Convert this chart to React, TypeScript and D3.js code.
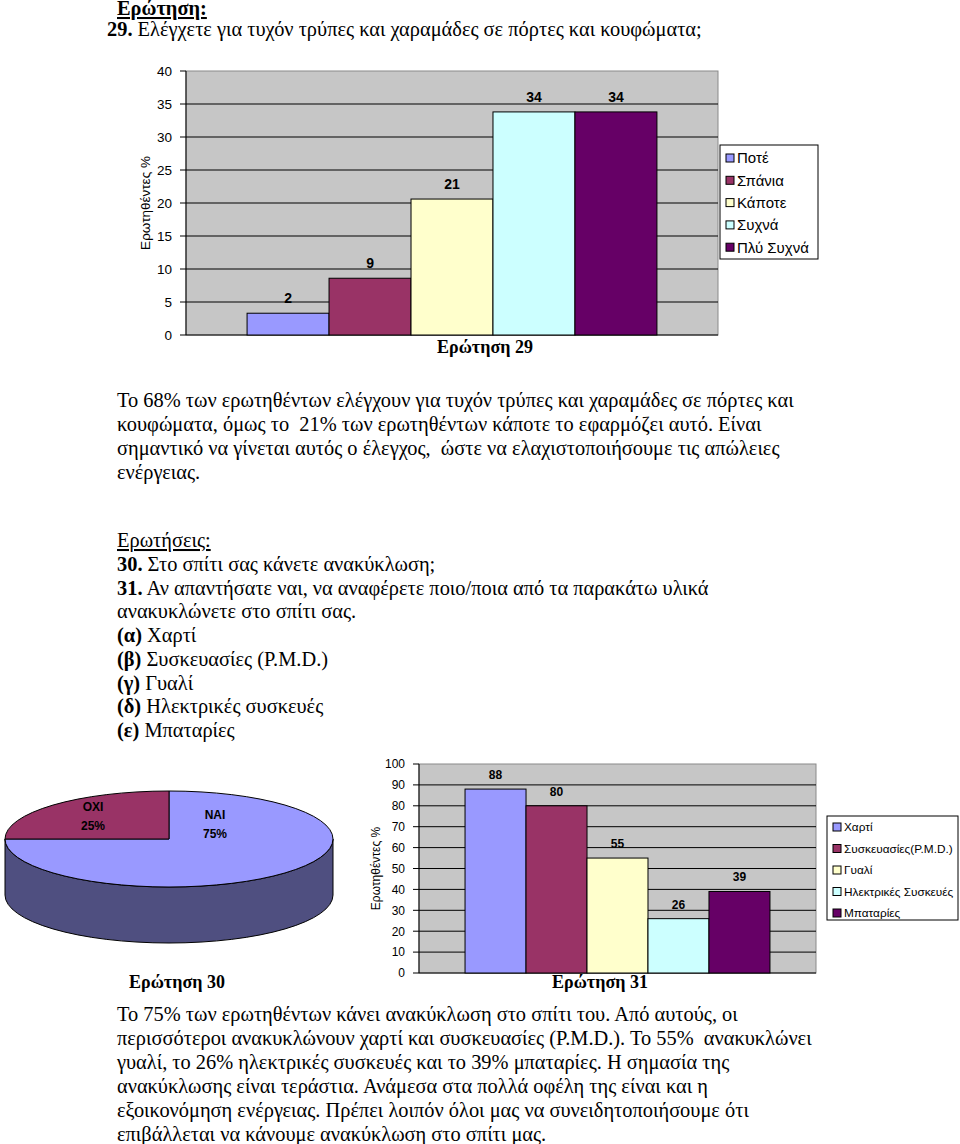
import * as d3 from "d3";

// Ερώτηση 29
const q29Categories = ["Ποτέ", "Σπάνια", "Κάποτε", "Συχνά", "Πλύ Συχνά"];
const q29Values = [3.3, 8.6, 20.6, 33.8, 33.8];
const q29Labels = ["2", "9", "21", "34", "34"];
const q29Ticks = [0, 5, 10, 15, 20, 25, 30, 35, 40];

// Ερώτηση 30
const q30Categories = ["ΝΑΙ", "ΟΧΙ"];
const q30Values = [75, 25];

// Ερώτηση 31
const q31Categories = ["Χαρτί", "Συσκευασίες(P.M.D.)", "Γυαλί", "Ηλεκτρικές Συσκευές", "Μπαταρίες"];
const q31Values = [88, 80, 55, 26, 39];
const q31Ticks = [0, 10, 20, 30, 40, 50, 60, 70, 80, 90, 100];

const barColors = ["#9999ff", "#993366", "#ffffcc", "#ccffff", "#660066"];
const pieColors = ["#9999ff", "#993366"];

const para29 = [
  "Το 68% των ερωτηθέντων ελέγχουν για τυχόν τρύπες και χαραμάδες σε πόρτες και",
  "κουφώματα, όμως το  21% των ερωτηθέντων κάποτε το εφαρμόζει αυτό. Είναι",
  "σημαντικό να γίνεται αυτός ο έλεγχος,  ώστε να ελαχιστοποιήσουμε τις απώλειες",
  "ενέργειας.",
];

const questionLines: [string, string][] = [
  ["30.", " Στο σπίτι σας κάνετε ανακύκλωση;"],
  ["31.", " Αν απαντήσατε ναι, να αναφέρετε ποιο/ποια από τα παρακάτω υλικά"],
  ["", "ανακυκλώνετε στο σπίτι σας."],
  ["(α)", " Χαρτί"],
  ["(β)", " Συσκευασίες (P.M.D.)"],
  ["(γ)", " Γυαλί"],
  ["(δ)", " Ηλεκτρικές συσκευές"],
  ["(ε)", " Μπαταρίες"],
];

const para31 = [
  "Το 75% των ερωτηθέντων κάνει ανακύκλωση στο σπίτι του. Από αυτούς, οι",
  "περισσότεροι ανακυκλώνουν χαρτί και συσκευασίες (P.M.D.). Το 55%  ανακυκλώνει",
  "γυαλί, το 26% ηλεκτρικές συσκευές και το 39% μπαταρίες. Η σημασία της",
  "ανακύκλωσης είναι τεράστια. Ανάμεσα στα πολλά οφέλη της είναι και η",
  "εξοικονόμηση ενέργειας. Πρέπει λοιπόν όλοι μας να συνειδητοποιήσουμε ότι",
  "επιβάλλεται να κάνουμε ανακύκλωση στο σπίτι μας.",
];

const SERIF = "'Liberation Serif', 'Times New Roman', serif";
const SANS = "'Liberation Sans', Arial, sans-serif";

type BarChartProps = {
  categories: string[];
  values: number[];
  labels: string[];
  ticks: number[];
  left: number;
  right: number;
  top: number;
  bottom: number;
  outer: number;
  fontSize: number;
  labelSize: number;
  titleX: number;
  title: string;
  titleY: number;
  titleCx: number;
  legend: { x: number; y: number; w: number; h: number; rowY: number; rowH: number; fs: number };
};

function BarChart(p: BarChartProps) {
  const x = d3.scaleBand<string>().domain(p.categories).range([p.left, p.right]).paddingInner(0).paddingOuter(p.outer);
  const y = d3.scaleLinear().domain([0, p.ticks[p.ticks.length - 1]]).range([p.bottom, p.top]);
  return (
    <g>
      <rect x={p.left} y={p.top} width={p.right - p.left} height={p.bottom - p.top} fill="#c6c6c6" stroke="#8a8a8a" strokeWidth={1} />
      {p.ticks.map((t) => (
        <g key={t}>
          {t > 0 && t < p.ticks[p.ticks.length - 1] ? (
            <line x1={p.left} x2={p.right} y1={y(t)} y2={y(t)} stroke="#000" strokeWidth={1} />
          ) : null}
          <line x1={p.left - 6} x2={p.left} y1={y(t)} y2={y(t)} stroke="#000" strokeWidth={1} />
          <text x={p.left - 14} y={y(t)} dy="0.36em" textAnchor="end" fontFamily={SANS} fontSize={p.fontSize}>
            {t}
          </text>
        </g>
      ))}
      <line x1={p.left} x2={p.left} y1={p.top} y2={p.bottom} stroke="#000" strokeWidth={1} />
      <line x1={p.left} x2={p.right} y1={p.bottom} y2={p.bottom} stroke="#000" strokeWidth={1} />
      {p.categories.map((c, i) => (
        <g key={c}>
          <rect
            x={x(c)}
            y={y(p.values[i])}
            width={x.bandwidth()}
            height={p.bottom - y(p.values[i])}
            fill={barColors[i]}
            stroke="#000"
            strokeWidth={1}
          />
          <text
            x={(x(c) ?? 0) + x.bandwidth() / 2}
            y={y(p.values[i]) - 10}
            textAnchor="middle"
            fontFamily={SANS}
            fontWeight="bold"
            fontSize={p.labelSize}
          >
            {p.labels[i]}
          </text>
        </g>
      ))}
      <text
        transform={`translate(${p.titleX},${(p.top + p.bottom) / 2}) rotate(-90)`}
        textAnchor="middle"
        dy="0.36em"
        fontFamily={SANS}
        fontSize={p.fontSize}
      >
        Ερωτηθέντες %
      </text>
      <text x={p.titleCx} y={p.titleY} textAnchor="middle" fontFamily={SERIF} fontWeight="bold" fontSize={18}>
        {p.title}
      </text>
      <rect x={p.legend.x} y={p.legend.y} width={p.legend.w} height={p.legend.h} fill="#fff" stroke="#000" strokeWidth={1} />
      {p.categories.map((c, i) => (
        <g key={"lg" + c}>
          <rect
            x={p.legend.x + 6}
            y={p.legend.rowY + i * p.legend.rowH - 4}
            width={8}
            height={8}
            fill={barColors[i]}
            stroke="#000"
            strokeWidth={1}
          />
          <text
            x={p.legend.x + 17}
            y={p.legend.rowY + i * p.legend.rowH}
            dy="0.36em"
            fontFamily={SANS}
            fontSize={p.legend.fs}
          >
            {c}
          </text>
        </g>
      ))}
    </g>
  );
}

function Pie3D() {
  const cx = 169;
  const cy = 839;
  const rx = 164;
  const ry = 48;
  const depth = 56;
  const pie = d3.pie<number>().sort(null).startAngle(0).endAngle(2 * Math.PI);
  const arcs = pie(q30Values);
  const arc = d3.arc<d3.PieArcDatum<number>>().innerRadius(0).outerRadius(1);
  const side = `M${cx - rx},${cy} A${rx},${ry} 0 0 0 ${cx + rx},${cy} L${cx + rx},${cy + depth} A${rx},${ry} 0 0 1 ${cx - rx},${cy + depth} Z`;
  const labelPos = [
    { x: 215, y: 815 },
    { x: 93, y: 807 },
  ];
  return (
    <g>
      <path d={side} fill="#4f4f80" stroke="#000" strokeWidth={1} />
      <g transform={`translate(${cx},${cy}) scale(${rx},${ry})`}>
        {arcs.map((a, i) => (
          <path key={i} d={arc(a) ?? ""} fill={pieColors[i]} stroke="#000" strokeWidth={1} vectorEffect="non-scaling-stroke" />
        ))}
      </g>
      {q30Categories.map((c, i) => (
        <g key={c} fontFamily={SANS} fontWeight="bold" fontSize={12} textAnchor="middle" fill="#000">
          <text x={labelPos[i].x} y={labelPos[i].y} dy="0.36em">
            {c}
          </text>
          <text x={labelPos[i].x} y={labelPos[i].y + 19} dy="0.36em">
            {q30Values[i]}%
          </text>
        </g>
      ))}
      <text x={177} y={988} textAnchor="middle" fontFamily={SERIF} fontWeight="bold" fontSize={18}>
        Ερώτηση 30
      </text>
    </g>
  );
}

export default function App() {
  return (
    <svg
      width={960}
      height={1144}
      viewBox="0 0 960 1144"
      style={{ position: "absolute", left: 0, top: 0, background: "#fff" }}
    >
      <rect width={960} height={1144} fill="#fff" />
      <g fontFamily={SERIF} fontSize={20.4} fill="#000">
        <text x={117} y={15} fontWeight="bold" textDecoration="underline">
          Ερώτηση:
        </text>
        <text x={107} y={36}>
          <tspan fontWeight="bold">29.</tspan> Ελέγχετε για τυχόν τρύπες και χαραμάδες σε πόρτες και κουφώματα;
        </text>
        {para29.map((l, i) => (
          <text key={i} x={117} y={407 + i * 24} style={{ whiteSpace: "pre" }}>
            {l}
          </text>
        ))}
        <text x={117} y={547} textDecoration="underline">
          Ερωτήσεις:
        </text>
        {questionLines.map(([b, t], i) => (
          <text key={i} x={117} y={571 + i * 23.7} style={{ whiteSpace: "pre" }}>
            <tspan fontWeight="bold">{b}</tspan>
            {t}
          </text>
        ))}
        {para31.map((l, i) => (
          <text key={i} x={117} y={1021 + i * 24} style={{ whiteSpace: "pre" }}>
            {l}
          </text>
        ))}
      </g>
      <BarChart
        categories={q29Categories}
        values={q29Values}
        labels={q29Labels}
        ticks={q29Ticks}
        left={186}
        right={718}
        top={71}
        bottom={335}
        outer={0.745}
        fontSize={13.5}
        labelSize={14}
        titleX={145}
        title="Ερώτηση 29"
        titleY={353}
        titleCx={485}
        legend={{ x: 720, y: 145, w: 98, h: 114, rowY: 158, rowH: 22.3, fs: 15 }}
      />
      <Pie3D />
      <BarChart
        categories={q31Categories}
        values={q31Values}
        labels={q31Values.map(String)}
        ticks={q31Ticks}
        left={419}
        right={816}
        top={764}
        bottom={973}
        outer={0.755}
        fontSize={12}
        labelSize={12}
        titleX={376}
        title="Ερώτηση 31"
        titleY={988}
        titleCx={600}
        legend={{ x: 827, y: 816, w: 131, h: 104, rowY: 827, rowH: 21.5, fs: 11.8 }}
      />
    </svg>
  );
}
